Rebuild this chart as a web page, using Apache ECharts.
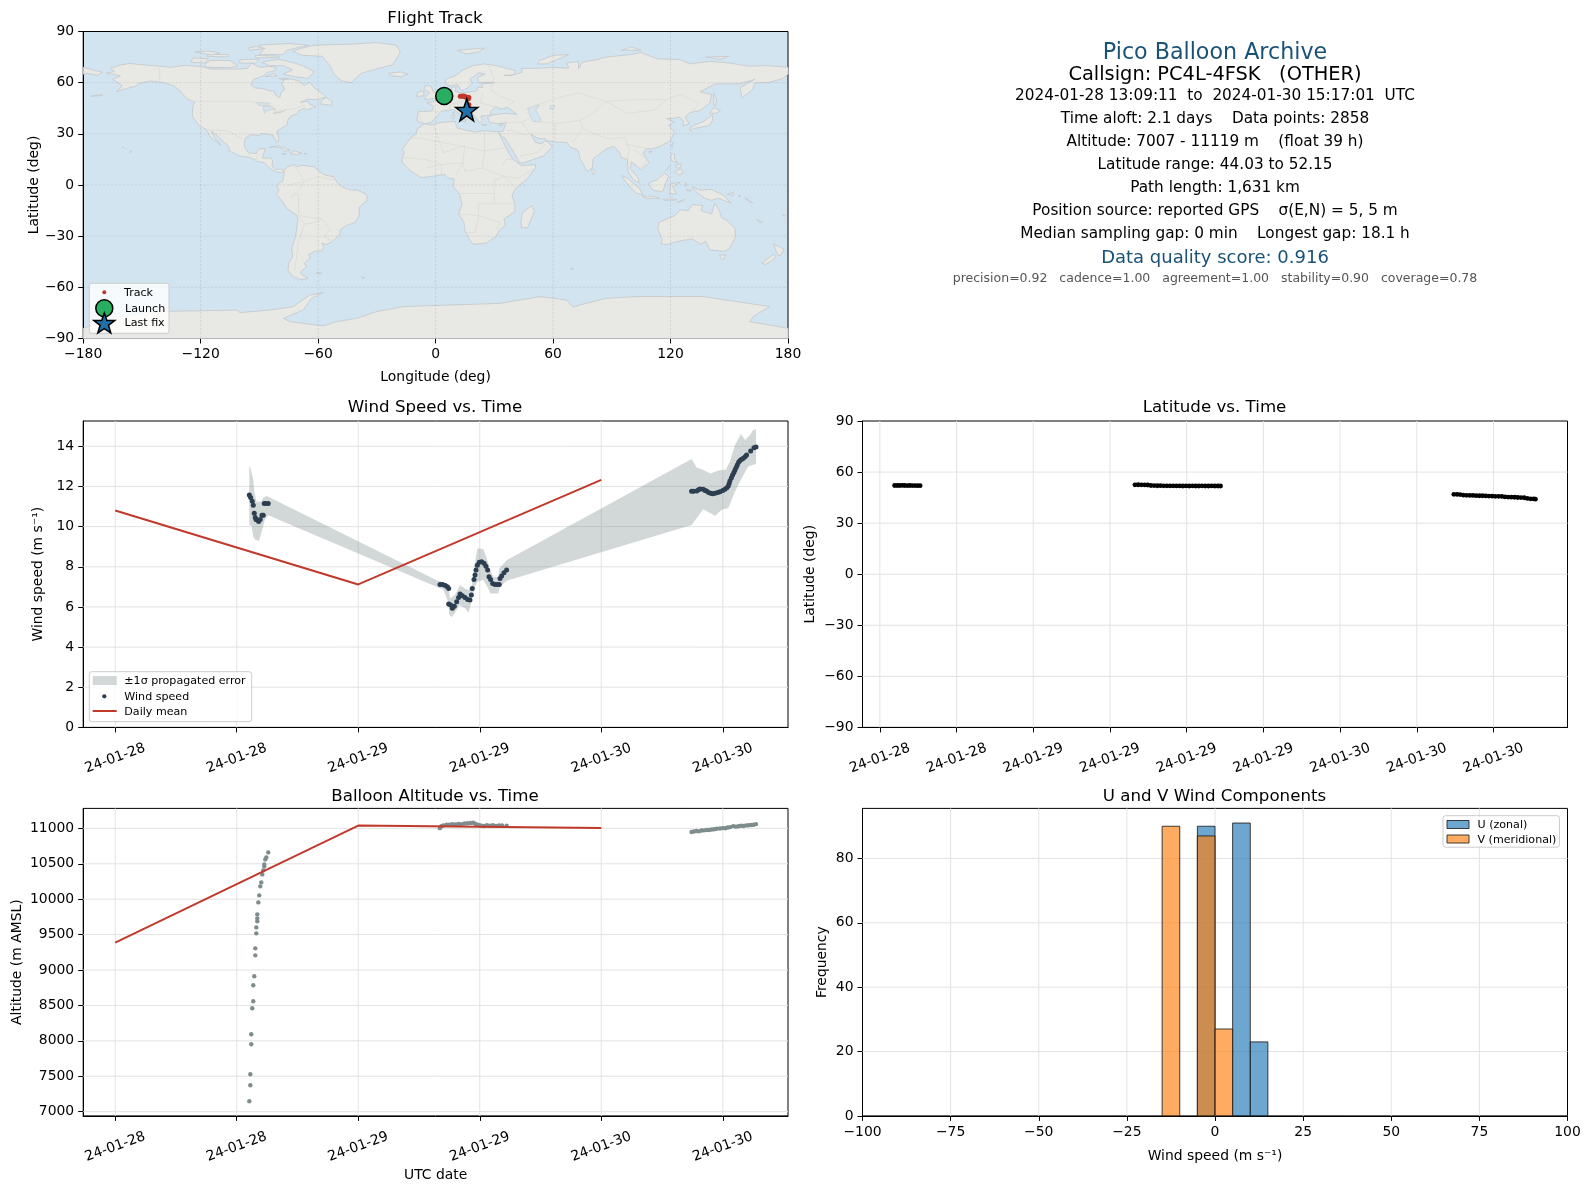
<!DOCTYPE html>
<html><head><meta charset="utf-8"><title>Pico Balloon Archive</title>
<style>html,body{margin:0;padding:0;background:#fff}#c{width:1590px;height:1189px}</style>
<script src="https://cdn.jsdelivr.net/npm/echarts@6/dist/echarts.min.js"></script>
</head><body><div id="c"></div>
<script>
// ---------- time is expressed in hours since 2024-01-28 00:00 UTC ----------
const timeTicks = [0,12,24,36,48,60];
const timeTickLabels = ['24-01-28','24-01-28','24-01-29','24-01-29','24-01-30','24-01-30'];
const latTimeTicks = [12,18,24,30,36,42,48,54,60];
const latTimeTickLabels = ['24-01-28','24-01-28','24-01-29','24-01-29','24-01-29','24-01-29','24-01-30','24-01-30','24-01-30'];

const windTicks = [0,2,4,6,8,10,12,14];
const altTicks = [7000,7500,8000,8500,9000,9500,10000,10500,11000];
const latTicks = [-90,-60,-30,0,30,60,90];
const lonTicks = [-180,-120,-60,0,60,120,180];
const histXTicks = [-100,-75,-50,-25,0,25,50,75,100];
const histYTicks = [0,20,40,60,80];

const windPoints = [
 [13.24,11.57],[13.37,11.45],[13.53,11.26],[13.63,11.06],[13.73,10.66],[13.83,10.46],[13.9,10.36],[14.03,10.33],[14.16,10.26],[14.32,10.36],[14.49,10.56],[14.62,10.56],[14.72,11.15],[14.88,11.15],[15.11,11.15],
 [32.07,7.12],[32.33,7.12],[32.6,7.07],[32.8,7.0],[32.93,6.92],[32.93,6.14],[33.12,6.09],[33.29,5.93],[33.49,6.04],[33.72,6.26],[33.91,6.47],[34.05,6.64],[34.28,6.56],[34.54,6.47],[34.8,6.37],[35.03,6.34],[35.17,6.59],[35.26,6.92],[35.43,7.37],[35.53,7.59],[35.63,7.84],[35.76,8.08],[35.95,8.22],[36.18,8.25],[36.42,8.17],[36.61,8.03],[36.78,7.84],[36.91,7.5],[37.07,7.37],[37.27,7.17],[37.5,7.12],[37.73,7.12],[37.93,7.12],[38.0,7.42],[38.16,7.54],[38.39,7.7],[38.65,7.84],
 [56.92,11.76],[57.1,11.76],[57.42,11.77],[57.6,11.83],[57.75,11.87],[58.07,11.86],[58.25,11.8],[58.4,11.77],[58.6,11.7],[58.8,11.66],[59.0,11.64],[59.23,11.66],[59.5,11.7],[59.72,11.74],[60.0,11.8],[60.21,11.86],[60.4,11.93],[60.54,12.02],[60.63,12.15],[60.71,12.29],[60.85,12.43],[60.97,12.57],[61.1,12.7],[61.2,12.82],[61.32,12.95],[61.43,13.07],[61.56,13.2],[61.7,13.29],[61.86,13.35],[62.03,13.4],[62.2,13.48],[62.35,13.57],[62.75,13.77],[63.08,13.93],[63.28,13.97]
];
const bandUpper = [
 [13.24,13.02],[13.37,12.9],[13.63,12.32],[13.73,11.74],[13.95,11.24],[14.39,11.24],[14.62,11.44],[14.95,11.52],[15.11,11.49],
 [31.9,7.29],[32.57,7.22],[32.96,6.84],[33.06,6.42],[33.55,6.59],[34.05,7.09],[34.54,6.92],[34.87,6.84],[35.2,7.0],[35.43,7.92],[35.76,8.91],[36.35,8.88],[36.75,8.33],[37.01,7.84],[37.34,7.5],[37.83,7.5],[37.93,7.92],[38.65,8.33],
 [56.92,13.37],[57.42,12.95],[58.07,12.82],[58.8,12.65],[59.56,12.79],[60.31,12.85],[60.71,13.24],[61.2,14.07],[61.8,14.61],[62.19,14.31],[62.68,14.56],[63.0,14.81],[63.28,14.85]
];
const bandLower = [
 [13.24,10.08],[13.47,10.03],[13.63,9.5],[13.8,9.36],[14.2,9.28],[14.32,9.5],[14.55,9.91],[14.78,10.36],[15.11,10.57],
 [31.9,6.97],[32.4,6.87],[32.93,6.17],[32.99,5.63],[33.22,5.48],[33.55,5.71],[33.98,6.09],[34.54,5.93],[34.87,5.71],[35.1,6.09],[35.3,6.59],[35.53,7.0],[35.76,7.25],[36.35,7.34],[36.75,7.0],[37.07,6.67],[37.83,6.67],[37.99,7.0],[38.65,7.3],
 [56.92,10.08],[58.07,10.86],[59.23,10.54],[59.98,10.86],[60.54,10.91],[61.2,11.74],[61.85,12.4],[62.51,12.99],[63.28,13.12]
];
const dailyMeanTimes = [0,24,48];
const dailyMeanWind = [10.8,7.12,12.33];
const dailyMeanAlt = [9387,11040,11005];

const altPoints = [
 [13.24,7147],[13.34,7373],[13.34,7528],[13.43,7951],[13.43,8092],[13.53,8459],[13.63,8558],[13.63,8784],[13.73,8911],[13.83,9207],[13.83,9306],[13.93,9518],[13.93,9602],[14.03,9687],[14.03,9729],[14.03,9786],[14.13,9955],[14.22,10054],[14.32,10181],[14.42,10237],[14.52,10350],[14.62,10407],[14.72,10463],[14.72,10491],[14.82,10562],[14.92,10590],[15.11,10661],
 [32.06,11003],[32.2,11030],[32.4,11042],[32.72,11051],[33.0,11052],[33.3,11058],[33.6,11056],[33.9,11062],[34.2,11060],[34.5,11068],[34.8,11072],[35.1,11076],[35.36,11079],[35.6,11062],[35.85,11050],[36.1,11040],[36.4,11034],[36.7,11046],[37.0,11038],[37.3,11044],[37.6,11035],[37.9,11043],[38.2,11040],[38.65,11036],
 [56.92,10948],[57.15,10955],[57.4,10962],[57.65,10958],[57.9,10970],[58.15,10972],[58.4,10978],[58.65,10976],[58.9,10985],[59.15,10988],[59.4,10994],[59.72,10998],[60.0,11004],[60.25,11002],[60.5,11012],[60.75,11018],[61.03,11032],[61.3,11024],[61.55,11030],[61.8,11036],[62.05,11034],[62.3,11042],[62.55,11044],[62.8,11048],[63.05,11052],[63.28,11060]
];
const latPoints = [
 [13.15,52.1],[13.35,52.12],[13.55,52.1],[13.75,52.15],[13.95,52.1],[14.15,52.05],[14.35,52.1],[14.55,52.08],[14.75,52.05],[14.95,52.03],[15.15,52.0],
 [31.95,52.5],[32.2,52.55],[32.45,52.5],[32.7,52.45],[32.95,52.4],[33.2,52.1],[33.45,52.05],[33.7,51.95],[33.95,52.0],[34.2,51.9],[34.45,51.9],[34.7,51.85],[34.95,51.9],[35.2,51.85],[35.45,51.85],[35.7,51.8],[35.95,51.85],[36.2,51.8],[36.45,51.85],[36.7,51.8],[36.95,51.8],[37.2,51.85],[37.45,51.8],[37.7,51.8],[37.95,51.85],[38.2,51.8],[38.45,51.8],[38.65,51.8],
 [56.9,46.9],[57.15,46.85],[57.4,46.75],[57.65,46.4],[57.9,46.35],[58.15,46.25],[58.4,46.25],[58.65,46.15],[58.9,46.1],[59.15,46.1],[59.4,46.0],[59.65,45.9],[59.9,45.85],[60.15,45.75],[60.4,45.75],[60.65,45.7],[60.9,45.4],[61.15,45.3],[61.4,45.25],[61.65,45.2],[61.9,45.05],[62.15,45.0],[62.4,44.9],[62.65,44.5],[62.9,44.3],[63.15,44.2],[63.28,44.1]
];
// histogram bins: [left, right, count]
const histU = [[-5,0,90],[5,10,91],[10,15,23]];
const histV = [[-15,-10,90],[-5,0,87],[0,5,27]];

const trackLonLat = [[12.6,52.1],[13.2,52.1],[14,52.15],[14.6,52],[15,51.9],[15.5,51.5],[16.5,51.5],[17,51.3],[16.8,50.5],[17,47],[16.5,46],[16,45],[15.9,44.03]];
const launchLonLat = [4.4,52.15];
const lastFixLonLat = [15.9,44.03];

const infoLines = [
 ['Pico Balloon Archive',53,22.2,'#1a5276'],
 ['Callsign: PC4L-4FSK   (OTHER)',75,19.4,'#000'],
 ['2024-01-28 13:09:11  to  2024-01-30 15:17:01  UTC',96,15.3,'#000'],
 ['Time aloft: 2.1 days    Data points: 2858',119,15.3,'#000'],
 ['Altitude: 7007 - 11119 m    (float 39 h)',142,15.3,'#000'],
 ['Latitude range: 44.03 to 52.15',165,15.3,'#000'],
 ['Path length: 1,631 km',188,15.3,'#000'],
 ['Position source: reported GPS    σ(E,N) = 5, 5 m',211,15.3,'#000'],
 ['Median sampling gap: 0 min    Longest gap: 18.1 h',234,15.3,'#000'],
 ['Data quality score: 0.916',258.5,18,'#1a5276'],
 ['precision=0.92   cadence=1.00   agreement=1.00   stability=0.90   coverage=0.78',279,12.5,'#555']
];

const landPolys = [
 // North America
 [[-168,65.6],[-164,66.5],[-166,68.4],[-161,70.3],[-156.5,71.3],[-150,70.5],[-141,69.7],[-135,69],[-128,70.2],[-120,69.5],[-115,68],[-108,68],[-100,68],[-96,68.5],[-94,71.5],[-90,69],[-85,69.5],[-81.5,69],[-82,67],[-86,66],[-88,64],[-93,61.8],[-94.5,59],[-92.5,57],[-88,56.5],[-85,55.3],[-82.3,55],[-82,52.9],[-79.5,51.3],[-79,54.5],[-77,56],[-78.5,58.8],[-77.5,62.4],[-73,62],[-70,61],[-67,58.3],[-64.5,60.3],[-61.5,56.5],[-57,53],[-56,51.6],[-60,50.2],[-66,50.2],[-69,48.5],[-65,49.2],[-64.5,47.5],[-61,45.8],[-66,44],[-67,45],[-70,43.5],[-70.5,41.7],[-74,40.5],[-75.5,38],[-76,35],[-78,33.8],[-81,31.5],[-80,27],[-80.5,25.2],[-82,26.5],[-83,29],[-85,29.7],[-89,30.2],[-90,29],[-94,29.5],[-97.3,27.5],[-97.7,22.5],[-95.5,18.7],[-91.5,18.5],[-90.5,21],[-87,21.5],[-88,17.5],[-88.5,15.8],[-84,15.8],[-83.3,14.5],[-83.5,11],[-81.5,9],[-79.5,9.5],[-77.3,8.6],[-78,7.5],[-80,7.3],[-82.5,8.2],[-85,10],[-87.5,13],[-91,13.9],[-94.5,16.1],[-100,17],[-105.5,20],[-105.5,22.5],[-109,26],[-112.5,30],[-114.7,31.7],[-113,28],[-109.5,23],[-112,25.5],[-115,28],[-117,32.5],[-120.5,34.5],[-122.5,37.5],[-124.3,40.5],[-124,46],[-123,48.5],[-127,50.5],[-130,54.5],[-133.5,58],[-139,60],[-146,61],[-151.5,59.5],[-153,58],[-158,56.5],[-163,54.8],[-160,58],[-162,59.8],[-165,62],[-161,64],[-168,65.6]],
 // Greenland
 [[-73,78.3],[-68,80.3],[-62,82],[-45,82.5],[-30,83.5],[-20,82],[-18,78],[-20,74],[-22,70.5],[-30,68],[-38,65.5],[-43,60],[-48,61],[-52,65],[-54,70],[-58,75.5],[-68,76],[-73,78.3]],
 // Canadian Arctic
 [[-80,73.7],[-72,71.5],[-68,70],[-62,66.5],[-65,62.5],[-72,63.5],[-78,65],[-73,67.5],[-78,70],[-85,70],[-89,72],[-80,73.7]],
 [[-117,69],[-105,68.8],[-101,70],[-105,73],[-115,73],[-118,71]],
 [[-90,76.5],[-78,76.5],[-76,79],[-65,82],[-75,83],[-90,82],[-88,79]],
 [[-125,72],[-118,71.5],[-116,74],[-124,74.5]],
 [[-92,76],[-80,75.5],[-80,74.6],[-92,74.6]],
 [[-117,75.5],[-106,75],[-106,76.5],[-116,76.5]],
 [[-95,79],[-87,80],[-92,81.3],[-96,80]],
 [[-59,47.6],[-53,46.7],[-53,49],[-56,51.5],[-59,48.5]],
 [[-87,63.5],[-81,64],[-83,65.5]],
 [[-100,73.5],[-90,73.8],[-92,71.5],[-100,71.5]],
 [[-123,78],[-114,76.2],[-110,77.5],[-116,78.5]],
 [[-80,62.5],[-75,62.3],[-78,61.7]],
 // Caribbean, Hawaii
 [[-85,22],[-80,23],[-75,20.7],[-74.2,20.2],[-77.5,19.9],[-78.5,21.5],[-82,22.5]],
 [[-74.4,18.4],[-72,20],[-68.4,18.6],[-71,17.7]],
 [[-78.3,18.4],[-76.3,18.2],[-77,17.8]],
 [[-67.2,18.5],[-65.6,18.4],[-66.5,18]],
 [[-156,19],[-155,19.7],[-155.9,20.2]],
 [[-158.2,21.6],[-157.7,21.4],[-158,21.2]],
 [[-160,22.2],[-159.3,22.2],[-159.5,21.8]],
 [[-176,52],[-172,52.3],[-170,52.8],[-174,52.6]],
 // South America
 [[-77.3,8.6],[-75.5,10.7],[-72,12],[-71.5,10.8],[-68,11.5],[-62,10.7],[-60,8.5],[-57,6],[-52,4.8],[-50,1],[-48,-1],[-44,-2.8],[-40,-3],[-35.2,-5.5],[-35,-9],[-39,-13],[-39,-18],[-41,-22],[-45,-23.5],[-48.5,-26],[-49,-29],[-53,-33.5],[-56,-35],[-58,-34],[-57,-36.5],[-58,-38.5],[-62,-39],[-65,-41],[-64,-42.5],[-67,-46],[-66,-48],[-69,-51],[-68.3,-52.5],[-65,-54.8],[-69,-55.5],[-73,-53.5],[-75.5,-50],[-75,-46],[-73,-42],[-73.5,-37],[-71.5,-30],[-70.3,-20],[-71,-17.5],[-76,-14],[-78,-10],[-81.3,-5.5],[-80,-3],[-81,-1],[-80,1],[-78,2.5],[-77.5,6],[-77.3,8.6]],
 [[-61,-51.5],[-58,-51.5],[-59,-52.3]],
 // Africa
 [[-6,35.8],[-2,35.2],[3,36.8],[10,37.3],[11,33.5],[15,32.3],[20,31],[25,31.8],[32.3,31.2],[32.5,30],[35,24],[37.3,19],[39.5,15],[43.2,12],[43.5,11.5],[51,11.9],[51,10],[47,4],[41,-2],[39,-6],[40.5,-11],[40.5,-15.5],[35,-20],[35.5,-24],[32.8,-26],[31,-30],[26,-34],[20,-34.8],[18.4,-34],[15,-27],[14.5,-22],[11.8,-17],[13.5,-11],[12,-5],[9,-1],[9.5,3.5],[6,4.3],[4.5,6.3],[-2,5],[-7.5,4.4],[-13,8.5],[-16.7,12.5],[-17.3,14.7],[-16,19],[-17,21],[-13,27.5],[-10,30],[-9.5,32.5],[-6,35.8]],
 [[49.3,-12],[50.5,-15.5],[47,-25],[44,-25],[43.5,-21],[44.5,-16]],
 // Eurasia
 [[-5.6,36],[-9,37],[-9.5,38.8],[-8.8,43],[-1.8,43.4],[-1,46],[-4.5,48.3],[-1.5,48.7],[1.5,50.5],[4,52],[7,53.5],[8.5,54],[8.2,57],[10.6,57.7],[10,55],[12,54.2],[14,54],[18.5,54.7],[21,55.2],[21.5,57.5],[24,57.2],[23.5,59.2],[30,60],[25,60.2],[22,60],[21.3,63],[25.3,65],[22.2,65.8],[17.5,62],[18.8,59.8],[16.5,57],[14.3,55.5],[13,55.5],[11.2,59],[10.5,59],[8,58],[5.5,59],[5,62],[10,64],[14,67.5],[19,70],[25,71],[31,70],[41,67],[40,64.7],[35,64.3],[38,64],[44,66],[44,68.3],[54,68.5],[60,69],[68,68.5],[67,71.5],[73,72.5],[73,68],[75,72],[82,73.5],[87,75],[100,76.5],[105,77.7],[113,74],[125,73.5],[130,71],[140,72.5],[150,71.5],[160,69.7],[170,70],[180,69],[180,65],[177.5,62.5],[170,60],[163,59.8],[162,56],[156.5,51],[155.5,57],[163,62],[155,59.3],[143,59.3],[135,54.7],[141,53],[140,48],[135,43.5],[130,42.5],[127.5,39.8],[129.5,36],[126.5,34.5],[126.5,37.5],[124.5,40],[121.5,39],[118,39],[122,37],[119,35],[122,31],[120,26],[115,22.7],[110,21],[108,21.5],[106,19],[109,13],[105,8.8],[103,11],[100,13.5],[99.5,9.5],[103.5,4],[104,1.3],[101,3],[98.3,8],[98,15],[95,16],[94,19],[91,22.7],[87,21],[80.5,15.5],[80,10],[77.5,8],[74,15],[72.8,20],[72,21],[69,22],[67,25],[61,25.2],[57,26],[56,27],[52,27.5],[48.5,30],[51,25],[54,24.2],[56.3,26],[59.8,22.5],[55,17],[45,13],[43,12.8],[39,21],[35,28],[34.2,28],[32.6,30],[32.3,31.2],[34.5,31.5],[36,36.5],[32,36],[27.5,36.7],[26.5,39.5],[29,41],[35,42],[41.5,41.5],[38,44.5],[37,45.5],[33.5,44.5],[30.7,46],[28,43],[28.5,41.2],[26,40.8],[23,40.3],[24,38],[22.5,36.5],[19.5,41],[19,42],[13.7,45.5],[12.3,44.5],[16,41.7],[18.5,40],[16.5,39.5],[15.7,38],[12.5,41.5],[9,44.3],[3,43.2],[0,39.5],[-2,36.8],[-5.6,36]],
 [[-180,69],[-175,67.5],[-170,66],[-173,64.3],[-178,65.5],[-180,65]],
 // Europe islands
 [[-5.5,50],[1.3,51.2],[1.5,52.8],[-1.5,55],[-2,57.6],[-5,58.6],[-6,56],[-3,54],[-5,52]],
 [[-10,52],[-6,52.2],[-6,55],[-8.5,55]],
 [[-24,65.5],[-18,66.3],[-14,65],[-18,63.5],[-22.5,64]],
 [[11,79],[25,80.3],[22,78],[16,76.8]],
 [[52,71],[57,71],[68,76.5],[60,76],[53,73]],
 [[95,79],[105,79],[100,81]],
 [[138,75],[150,75.5],[145,73.7]],
 [[12.5,38],[15.5,38.2],[15,36.7]],
 [[8.3,41],[9.7,41],[9.5,39],[8.5,39]],
 [[8.7,42.5],[9.5,43],[9.3,41.5]],
 [[23.5,35.5],[26.3,35.2],[24.5,34.9]],
 [[32.3,35],[34.5,35.6],[33.5,34.7]],
 // East Asia islands
 [[142,54],[143.5,50],[143,46.5],[142,47],[142,50]],
 [[130,31.5],[131.5,33],[136,34],[140,35],[141.5,38],[141.5,41],[140,40],[136.5,37],[132,35],[130,33.5]],
 [[140,42],[142,45.5],[145.5,43.5],[143,42]],
 [[120.2,23],[121.5,25.2],[120.8,22]],
 [[108.7,19.3],[110.5,20],[110,18.3]],
 [[120.5,18.5],[122,18],[122,15],[124,13],[121,13.8],[120,16]],
 [[122,8],[125.5,9.5],[126.5,7],[124,6]],
 [[118,9],[119.5,11],[117.5,8.5]],
 [[122.5,11.5],[125.5,12.3],[125,10],[123,10]],
 [[109,1.5],[113,3],[117,7],[119,5],[117.5,1],[116,-4],[111,-3],[109,0]],
 [[95,5.5],[98,4],[104,-2],[106,-6],[102,-4.5],[97,2]],
 [[105.5,-6.5],[111,-6.5],[114.5,-7.8],[108,-7.8]],
 [[119.5,-5.5],[120,0.8],[125,1.5],[121,-1],[123,-5]],
 [[116,-8.3],[119,-8.3],[119,-9],[116.5,-9]],
 [[119.8,-8.5],[123,-8.2],[123,-8.9],[120,-8.9]],
 [[123.5,-10.3],[127,-8.5],[125,-9.8]],
 [[127.5,1.8],[128.5,0.5],[127.8,-0.8]],
 [[128,-3],[130.8,-3],[129.5,-3.6]],
 [[131,-1],[135,-3],[141,-2.6],[147,-6],[150.8,-10.5],[144,-7.8],[141,-9],[138,-8],[133,-4]],
 [[149,-5.5],[152,-4.2],[152,-6]],
 [[155,-6],[156,-7],[154.8,-6.6]],
 [[158,-7.5],[162,-10.5],[160,-9.8]],
 [[80,9.7],[81.8,7.5],[80.5,6],[79.8,8]],
 // Oceania
 [[114,-22],[113.5,-26],[115.8,-32],[115,-34.4],[118,-35],[124,-33],[131,-31.5],[135.5,-34.8],[138,-33],[140,-38],[144,-38.5],[147,-39],[150,-37.5],[153,-31],[153,-25.5],[149,-21],[146,-19],[145,-15],[142.5,-10.8],[141,-17],[135.5,-15],[136.5,-12],[131,-11.5],[129,-15],[125,-14.5],[122,-18],[114,-22]],
 [[145,-41],[148,-41],[147.5,-43.5],[146,-43.5]],
 [[172.7,-34.5],[178,-37.7],[176,-41.5],[174.8,-41.3],[174,-39]],
 [[172.5,-40.7],[174,-41.8],[171,-45],[168.5,-46.6],[166.5,-45.8]],
 [[164,-20],[167,-22],[166,-22.3]],
 [[177.2,-17.5],[178.6,-17.8],[178,-18.3]],
 [[69,-49],[70.5,-49],[69.5,-49.8]],
 [[-38,-54],[-36,-54.2],[-37,-54.7]],
 // Antarctica
 [[-180,-84],[-165,-78],[-144,-74.2],[-118.6,-73.7],[-101.6,-73.3],[-100,-74.8],[-84.6,-73.3],[-72.7,-71.3],[-69.3,-68.4],[-64.2,-64.5],[-57.4,-63.1],[-63.3,-66.4],[-67.6,-73.3],[-77.8,-78.2],[-74.4,-80.1],[-57.4,-82.6],[-50.6,-80.1],[-40.4,-78.2],[-30,-74.2],[-16.5,-71.3],[-8,-70.9],[9,-70.3],[32.8,-69.4],[53.3,-65.4],[66.9,-67.4],[70.3,-71.7],[73.7,-70.3],[87.3,-66.4],[102.6,-65.4],[136.7,-65.4],[170.7,-71.3],[162.2,-77.2],[160.5,-80.1],[180,-84],[180,-90],[-180,-90]]
];
const waterPolys = [
 [[47,45],[53,46.8],[51,44],[53,40],[54,37],[50,37.3],[48.5,40],[47.5,43]],
 [[-92,48.5],[-85,48],[-85,46.7],[-90,46.6]],
 [[-88,46],[-84,46],[-82,43.5],[-82,45],[-86,43.5],[-87.5,42]],
 [[-83,42],[-79,43],[-76.5,44],[-79,42.5]],
 [[58.5,46.5],[61,46.5],[60,44.5],[58.5,44.5]]
];
const borderLines = [
 [[-141,69.7],[-141,60]],[[-123,49],[-95,49],[-89,48],[-83,46],[-82,43],[-76.5,44],[-71,45],[-67,47],[-67,45]],
 [[-117,32.5],[-106,31.7],[-97.3,26]],[[-92,14.5],[-91,17.5],[-89,17.8]],
 [[-70,-18],[-70,-5],[-74,-7],[-70,-3],[-67,2],[-60,5],[-52,3]],[[-70,-18],[-58,-20],[-54,-26],[-57,-30],[-53,-33]],[[-70,-18],[-67,-23],[-70,-33],[-72,-50]],[[-75,0],[-67,2],[-72,12]],[[-58,-20],[-62,-22],[-67,-23]],
 [[-8.8,42],[-7,37]],[[-1.8,43.4],[3,42.5]],[[2,51],[8,49],[7.5,47.5],[7,44]],[[14,54],[15,51],[13,48.5],[8,47.5]],[[24,54],[23,48],[30,46]],[[27,70],[30,62],[28,56],[33,52],[40,49],[38,47]],
 [[47,42],[49,46],[62,51],[73,54],[87,49],[98,50],[108,50],[118,50],[125,53],[135,48],[131,43]],[[87,49],[80,42],[74,38],[62,36],[53,37]],[[74,38],[75,33],[70,25]],[[75,33],[88,27],[97,28],[99,20],[98,15]],[[97,24],[105,22],[108,21.5]],[[101,21],[108,15],[105,10]],[[87,49],[98,42],[112,44],[118,50]],
 [[36,36.5],[44,37],[48,30]],[[44,37],[48,39]],[[36,32],[39,32],[47,29]],[[43,17],[52,19],[56,24]],[[61,25],[61,36]],
 [[-13,27.5],[-8,27.5],[12,23],[25,20],[37,22]],[[25,31.8],[25,20],[24,10],[35,5],[41,-2]],[[-1,35],[4,19],[15,23],[14,13],[3,12],[-5,10]],[[-16,16],[-5,15],[3,12],[3,6]],[[14,13],[10,5]],[[24,10],[15,8],[14,13]],[[12,-5],[30,-5],[30,-11],[22,-11],[22,-18],[12,-17]],[[30,-11],[40,-11]],[[30,-5],[30,3],[35,5],[42,4],[51,10]],[[22,-18],[20,-28],[16,-28]],[[22,-18],[33,-22],[31,-26]],[[34,11],[36,15],[39,15]]
];

// ---------- helpers ----------
const FONT='"DejaVu Sans",sans-serif';
const GRID_COLOR='#e3e3e3';
const minus=v=>String(v).replace('-','\u2212');
const grids=[
 {left:83.2,top:31.5,width:704.8,height:307},
 {left:83.2,top:421,width:704.8,height:306.4},
 {left:862.5,top:421,width:705,height:306.4},
 {left:83.2,top:808.4,width:704.8,height:307.5},
 {left:862.5,top:808.4,width:705,height:307.5}
].map(g=>Object.assign({show:true,borderColor:'#000',borderWidth:1,backgroundColor:'#fff'},g));
grids[0].backgroundColor='#d3e4f1';

function axis(idx,min,max,ticks,opt){
 opt=opt||{};
 return Object.assign({
  type:'value',gridIndex:idx,min:min,max:max,
  splitLine:{show:false},
  axisLine:{show:true,onZero:false,lineStyle:{color:'#000',width:1}},
  axisTick:{show:true,length:5,customValues:ticks,lineStyle:{color:'#000',width:1}},
  axisLabel:{show:true,customValues:ticks,fontFamily:FONT,fontSize:13.9,color:'#000',margin:opt.margin||9,
   rotate:opt.rotate||0,align:opt.rotate?'center':undefined,padding:opt.padding||0,
   formatter:opt.labels?(v=>opt.labels[ticks.indexOf(v)]):minus},
  name:opt.name||'',nameLocation:'middle',nameGap:opt.nameGap||30,
  nameTextStyle:{fontFamily:FONT,fontSize:13.9,color:'#000'}
 });
}
const Y_PAD=[2,0,0,0];
const xAxes=[
 axis(0,-180,180,lonTicks,{name:'Longitude (deg)',nameGap:32}),
 axis(1,-3.164,66.44,timeTicks,{labels:timeTickLabels,rotate:20,margin:31}),
 axis(2,10.64,65.79,latTimeTicks,{labels:latTimeTickLabels,rotate:20,margin:31}),
 axis(3,-3.164,66.44,timeTicks,{labels:timeTickLabels,rotate:20,margin:31,name:'UTC date',nameGap:52}),
 axis(4,-100,100,histXTicks,{name:'Wind speed (m s\u207B\u00B9)',nameGap:33})
];
const yAxes=[
 axis(0,-90,90,latTicks,{name:'Latitude (deg)',nameGap:42,padding:Y_PAD}),
 axis(1,0,15.26,windTicks,{name:'Wind speed (m s\u207B\u00B9)',nameGap:38,padding:Y_PAD}),
 axis(2,-90,90,latTicks,{name:'Latitude (deg)',nameGap:45,padding:Y_PAD}),
 axis(3,6940,11282,altTicks,{name:'Altitude (m AMSL)',nameGap:59,padding:Y_PAD}),
 axis(4,0,95.55,histYTicks,{name:'Frequency',nameGap:33,padding:Y_PAD})
];
function gridLines(i,xt,yt,style,z){
 const xr=[xAxes[i].min,xAxes[i].max],yr=[yAxes[i].min,yAxes[i].max];
 const data=xt.map(v=>[v,yr[0],v,yr[1]]).concat(yt.map(v=>[xr[0],v,xr[1],v]));
 return {type:'custom',xAxisIndex:i,yAxisIndex:i,z:z,silent:true,data:data,encode:{x:[0,2],y:[1,3]},
  renderItem:(p,api)=>{const a=api.coord([api.value(0),api.value(1)]),b=api.coord([api.value(2),api.value(3)]);
   return {type:'line',shape:{x1:a[0],y1:a[1],x2:b[0],y2:b[1]},style:style};}};
}
function polySeries(polys,fill,stroke,w,z){
 return {type:'custom',xAxisIndex:0,yAxisIndex:0,z:z,silent:true,
  data:polys.map(p=>p[0]),encode:{x:0,y:1},
  renderItem:(p,api)=>({type:'polygon',shape:{points:polys[p.dataIndex].map(q=>api.coord(q))},style:{fill:fill,stroke:stroke,lineWidth:w}})};
}
function lineSeries(polys,stroke,w,z){
 return {type:'custom',xAxisIndex:0,yAxisIndex:0,z:z,silent:true,
  data:polys.map(p=>p[0]),encode:{x:0,y:1},
  renderItem:(p,api)=>({type:'polyline',shape:{points:polys[p.dataIndex].map(q=>api.coord(q))},style:{fill:'none',stroke:stroke,lineWidth:w}})};
}
function dots(i,name,data,color,size,z){
 return {type:'scatter',name:name,xAxisIndex:i,yAxisIndex:i,data:data,symbolSize:size,z:z,silent:true,
  itemStyle:{color:color,opacity:1},animation:false};
}
function meanLine(i,vals){
 return {type:'line',name:'Daily mean',xAxisIndex:i,yAxisIndex:i,z:6,silent:true,showSymbol:false,symbol:'none',
  data:dailyMeanTimes.map((t,k)=>[t,vals[k]]),lineStyle:{color:'#c0392b',width:2}};
}
function histSeries(name,bins,fill){
 return {type:'custom',name:name,xAxisIndex:4,yAxisIndex:4,z:4,silent:true,data:bins,encode:{x:[0,1],y:2},
  renderItem:(p,api)=>{const a=api.coord([api.value(0),api.value(2)]),b=api.coord([api.value(1),0]);
   return {type:'rect',shape:{x:a[0],y:a[1],width:b[0]-a[0],height:b[1]-a[1]},style:{fill:fill,stroke:'rgba(30,30,30,.85)',lineWidth:1}};}};
}
const bandPoly=bandUpper.concat(bandLower.slice().reverse());
const starUnit=[[0,-1],[.236,-.31],[.95,-.31],[.38,.12],[.59,.81],[0,.42],[-.59,.81],[-.38,.12],[-.95,-.31],[-.236,-.31]];
const STAR='path://M50 0L61.8 35.1L97.6 35.5L69 57.3L79.4 91.5L50 71L20.6 91.5L31 57.3L2.4 35.5L38.2 35.1Z';

const series=[
 polySeries(landPolys,'#e8e8e4','#c3c8ca',0.8,1),
 polySeries(waterPolys,'#d3e4f1','#c3c8ca',0.6,2),
 lineSeries(borderLines,'#dcdcd7',0.8,2),
 gridLines(0,lonTicks.slice(1,-1),latTicks.slice(1,-1),{stroke:'rgba(90,90,90,.17)',lineWidth:0.8,lineDash:[2.5,1.5]},3),
 dots(0,'Track',trackLonLat,'#c0392b',5,5),
 {type:'scatter',name:'Launch',xAxisIndex:0,yAxisIndex:0,data:[launchLonLat],symbol:'circle',symbolSize:17,z:6,silent:true,itemStyle:{color:'#27ae60',borderColor:'#000',borderWidth:1.5,opacity:1}},
 {type:'scatter',name:'Last fix',xAxisIndex:0,yAxisIndex:0,data:[lastFixLonLat],symbol:STAR,symbolSize:22,z:7,silent:true,itemStyle:{color:'#1f6fa8',borderColor:'#000',borderWidth:1.5,opacity:1}},

 gridLines(1,timeTicks,windTicks.slice(1),{stroke:GRID_COLOR,lineWidth:1},1),
 {type:'custom',name:'\u00B11\u03C3 propagated error',xAxisIndex:1,yAxisIndex:1,z:2,silent:true,data:bandPoly,encode:{x:0,y:1},
  renderItem:(p,api)=>p.dataIndex===0?{type:'polygon',shape:{points:bandPoly.map(q=>api.coord(q))},style:{fill:'rgba(127,140,141,.35)'}}:null},
 dots(1,'Wind speed',windPoints,'#2c3e50',5,5),
 meanLine(1,dailyMeanWind),

 gridLines(2,latTimeTicks,latTicks.slice(1,-1),{stroke:GRID_COLOR,lineWidth:1},1),
 dots(2,'Latitude',latPoints,'#000',4.8,5),

 gridLines(3,timeTicks,altTicks,{stroke:GRID_COLOR,lineWidth:1},1),
 dots(3,'Altitude',altPoints,'#7f8c8d',4.4,5),
 meanLine(3,dailyMeanAlt),

 gridLines(4,histXTicks.slice(1,-1),histYTicks.slice(1),{stroke:GRID_COLOR,lineWidth:1},1),
 histSeries('U (zonal)',histU,'rgba(31,119,180,.65)'),
 histSeries('V (meridional)',histV,'rgba(255,127,14,.65)')
];

const titles=[['Flight Track',430,14.2],['Wind Speed vs. Time',430,403.2],['Latitude vs. Time',1209.5,403.2],['Balloon Altitude vs. Time',430,792.7],['U and V Wind Components',1209.5,792.7]]
 .map(t=>({text:t[0],left:t[1],top:t[2]-9.5,textAlign:'center',textStyle:{fontFamily:FONT,fontSize:16.67,fontWeight:'normal',color:'#000'}}));

const infoGraphic=infoLines.map(l=>({type:'text',x:1215,y:l[1],silent:true,z:20,
 style:{text:l[0],align:'center',verticalAlign:'middle',fontFamily:FONT,fontSize:l[2],fill:l[3]}}));

const LEG='rgba(255,255,255,.8)';
const legText=(s,x,y)=>({type:'text',x:x,y:y,silent:true,z:31,style:{text:s,align:'left',verticalAlign:'middle',fontFamily:FONT,fontSize:11.1,fill:'#000'}});
const box=(x,y,w,h)=>({type:'rect',shape:{x:x,y:y,width:w,height:h,r:2.5},silent:true,z:30,style:{fill:LEG,stroke:'#ccc',lineWidth:1}});
const circ=(x,y,r,f,s)=>({type:'circle',shape:{cx:x,cy:y,r:r},silent:true,z:31,style:{fill:f,stroke:s||null,lineWidth:s?1.5:0}});
const legendGraphic=[
 box(89.3,283.3,79.7,50),
 circ(104.3,292.3,2,'#c0392b'),legText('Track',124,292.8),
 circ(104.3,308.3,8.5,'#27ae60','#000'),legText('Launch',125,308.8),
 {type:'polygon',silent:true,z:32,shape:{points:starUnit.map(q=>[104.3+q[0]*11,324+q[1]*11])},style:{fill:'#1f6fa8',stroke:'#000',lineWidth:1.5}},legText('Last fix',124.5,323.5),

 box(89.3,671.7,162.4,50),
 {type:'rect',silent:true,z:31,shape:{x:92.7,y:676,width:24,height:9},style:{fill:'rgba(127,140,141,.35)'}},legText('\u00B11\u03C3 propagated error',124.3,681.5),
 circ(104.3,696.3,2.1,'#2c3e50'),legText('Wind speed',124.3,696.8),
 {type:'line',silent:true,z:31,shape:{x1:92.7,y1:711,x2:116.7,y2:711},style:{stroke:'#c0392b',lineWidth:2}},legText('Daily mean',124.3,712),

 box(1443,815.7,116.5,31.5),
 {type:'rect',silent:true,z:31,shape:{x:1447,y:820.5,width:22,height:8},style:{fill:'rgba(31,119,180,.65)',stroke:'rgba(30,30,30,.85)',lineWidth:1}},legText('U (zonal)',1477.5,825),
 {type:'rect',silent:true,z:31,shape:{x:1447,y:835,width:22,height:8},style:{fill:'rgba(255,127,14,.65)',stroke:'rgba(30,30,30,.85)',lineWidth:1}},legText('V (meridional)',1477.5,840)
];

const chart=echarts.init(document.getElementById('c'),null,{renderer:'canvas',width:1590,height:1189});
chart.setOption({animation:false,backgroundColor:'#fff',title:titles,grid:grids,xAxis:xAxes,yAxis:yAxes,series:series,
 graphic:infoGraphic.concat(legendGraphic)});
</script></body></html>
